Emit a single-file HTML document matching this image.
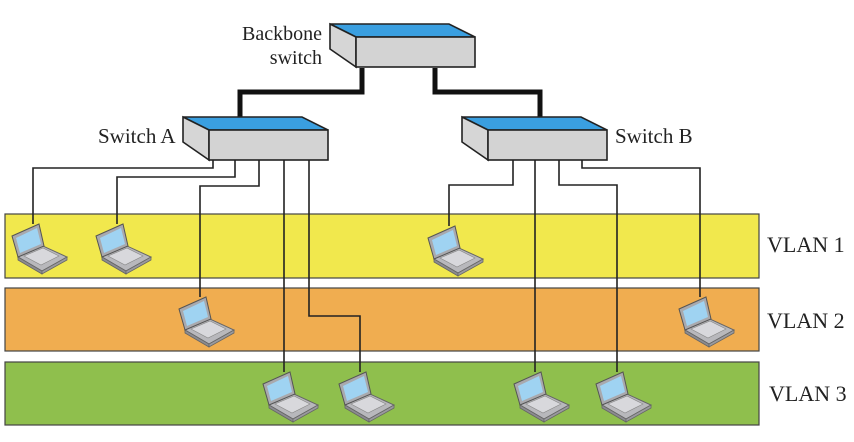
<!DOCTYPE html>
<html><head><meta charset="utf-8"><style>
html,body{margin:0;padding:0;background:#fff;}
svg{display:block;}
text{font-family:"Liberation Serif",serif;fill:#222;}
</style></head><body>
<svg width="854" height="442" viewBox="0 0 854 442" xmlns="http://www.w3.org/2000/svg">
<defs>
<g id="lap">
  <polygon points="-15,33 10,22 34,33 9,47" fill="#b8b8bc" stroke="#666" stroke-width="1"/>
  <polygon points="-15,33 9,47 9,50 -15,36" fill="#8c8c90" stroke="#666" stroke-width="0.8"/>
  <polygon points="9,47 34,33 34,36 9,50" fill="#9a9a9e" stroke="#666" stroke-width="0.8"/>
  <polygon points="-9,32 10,24 26,32 8,41" fill="#d8d8dc" stroke="#888" stroke-width="0.6"/>
  <polygon points="-21,12 6,0 11,22 -15,33" fill="#a9a9ad" stroke="#555" stroke-width="1"/>
  <polygon points="-17,14 4,4 8,20 -13,29" fill="#9fd3f2"/>
</g>
<g id="sw">
  <polygon points="0,0 119,0 145,13 26,13" fill="#3a9fe0" stroke="#222" stroke-width="1.6"/>
  <polygon points="0,0 26,13 26,43 0,25" fill="#d6d6d6" stroke="#222" stroke-width="1.6"/>
  <rect x="26" y="13" width="119" height="30" fill="#d3d3d3" stroke="#222" stroke-width="1.6"/>
</g>
</defs>
<rect x="5" y="214" width="754" height="64" fill="#f1e84d" stroke="#444" stroke-width="1.2"/>
<rect x="5" y="288" width="754" height="63" fill="#f0ad50" stroke="#444" stroke-width="1.2"/>
<rect x="5" y="362" width="754" height="63" fill="#8fbf4d" stroke="#444" stroke-width="1.2"/>
<g fill="none" stroke="#111" stroke-width="5">
  <polyline points="362,68 362,92 240,92 240,117"/>
  <polyline points="435,68 435,92 540,92 540,117"/>
</g>
<g fill="none" stroke="#222" stroke-width="1.6">
  <polyline points="213,160 213,168 33,168 33,224"/>
  <polyline points="235,160 235,177 117,177 117,224"/>
  <polyline points="259,160 259,186 200,186 200,297"/>
  <polyline points="284,160 284,372"/>
  <polyline points="309,160 309,316 360,316 360,372"/>
  <polyline points="513,160 513,185 449,185 449,226"/>
  <polyline points="535,160 535,372"/>
  <polyline points="559,160 559,185 617,185 617,372"/>
  <polyline points="582,160 582,168 700,168 700,297"/>
</g>
<use href="#sw" x="330" y="24"/>
<use href="#sw" x="183" y="117"/>
<use href="#sw" x="462" y="117"/>
<use href="#lap" x="33" y="224"/>
<use href="#lap" x="117" y="224"/>
<use href="#lap" x="449" y="226"/>
<use href="#lap" x="200" y="297"/>
<use href="#lap" x="700" y="297"/>
<use href="#lap" x="284" y="372"/>
<use href="#lap" x="360" y="372"/>
<use href="#lap" x="535" y="372"/>
<use href="#lap" x="617" y="372"/>
<text x="322" y="40" font-size="20" text-anchor="end">Backbone</text>
<text x="322" y="64" font-size="20" text-anchor="end">switch</text>
<text x="98" y="143" font-size="21">Switch A</text>
<text x="615" y="143" font-size="21">Switch B</text>
<text x="767" y="252" font-size="22">VLAN 1</text>
<text x="767" y="328" font-size="22">VLAN 2</text>
<text x="769" y="401" font-size="22">VLAN 3</text>
</svg>
</body></html>
